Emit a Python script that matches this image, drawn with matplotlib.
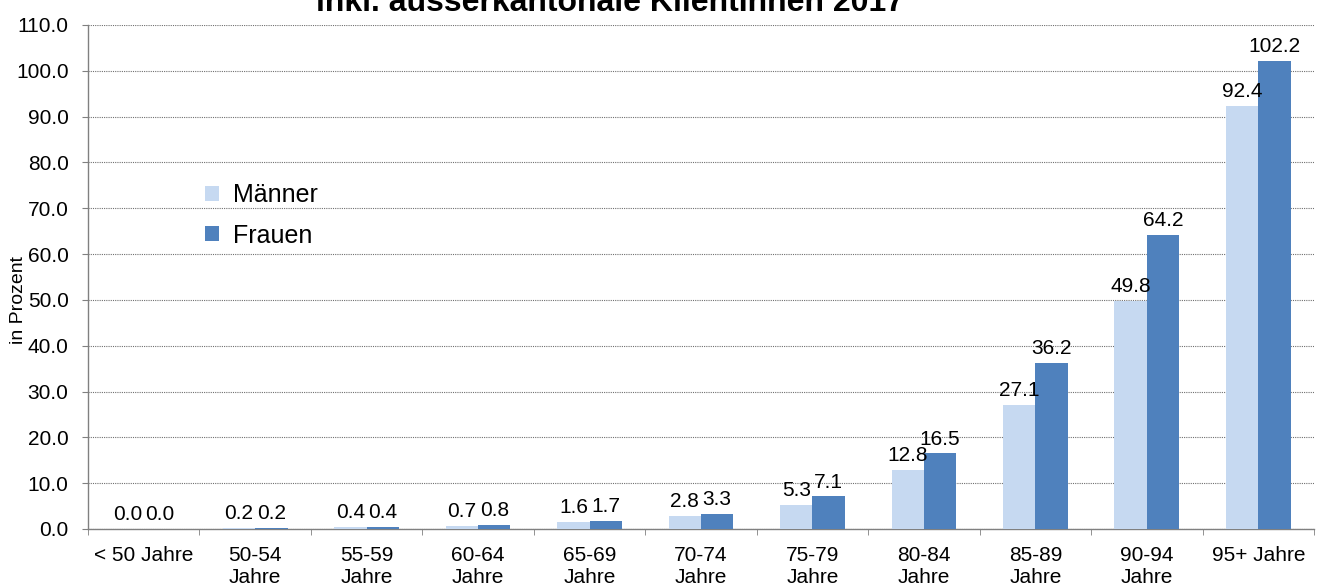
import matplotlib
matplotlib.use("Agg")
import matplotlib.pyplot as plt
import numpy as np

plt.rcParams['font.family'] = ['Liberation Sans', 'DejaVu Sans']

categories = ["< 50 Jahre", "50-54\nJahre", "55-59\nJahre", "60-64\nJahre", "65-69\nJahre",
              "70-74\nJahre", "75-79\nJahre", "80-84\nJahre", "85-89\nJahre", "90-94\nJahre",
              "95+ Jahre"]
maenner = [0.0, 0.2, 0.4, 0.7, 1.6, 2.8, 5.3, 12.8, 27.1, 49.8, 92.4]
frauen = [0.0, 0.2, 0.4, 0.8, 1.7, 3.3, 7.1, 16.5, 36.2, 64.2, 102.2]
yticks = np.arange(0, 111, 10)

c_m = "#C6D9F1"
c_f = "#4F81BD"

fig = plt.figure(figsize=(13.2, 5.86), dpi=100)
ax = fig.add_axes([88/1320, 1-529/586, (1314-88)/1320, (529-25)/586])

x = np.arange(len(categories))
w = 0.29
b1 = ax.bar(x - w/2, maenner, w, color=c_m, label="Männer", zorder=3)
b2 = ax.bar(x + w/2, frauen, w, color=c_f, label="Frauen", zorder=3)

for rects, vals in ((b1, maenner), (b2, frauen)):
    for r, v in zip(rects, vals):
        ax.annotate(f"{v:.1f}", (r.get_x() + r.get_width()/2, v),
                    xytext=(0, 3.5), textcoords="offset points",
                    ha="center", va="bottom", fontsize=15, color="black", zorder=4)

ax.set_xlim(-0.5, len(categories) - 0.5)
ax.set_ylim(0, 110)
ax.set_yticks(yticks)
ax.set_yticklabels([f"{v:.1f}" for v in yticks], fontsize=15)
ax.set_xticks(x)
ax.set_xticklabels(categories, fontsize=15, linespacing=1.25, va="top")
ax.tick_params(axis="x", which="major", length=0, pad=12)
ax.set_xticks(np.arange(-0.5, len(categories), 1), minor=True)
ax.tick_params(axis="x", which="minor", length=4, color="#808080", direction="out")
ax.tick_params(axis="y", length=4, color="#808080", direction="out", pad=10)

ax.yaxis.grid(True, linestyle=(0, (1, 1)), color="#707070", linewidth=0.8, zorder=0)
ax.set_axisbelow(True)
for s in ("top", "right"):
    ax.spines[s].set_visible(False)
for s in ("left", "bottom"):
    ax.spines[s].set_color("#808080")
    ax.spines[s].set_linewidth(1.0)

fig.text(18.5/1320, 1 - 300/586, "in Prozent", rotation=90, ha="center", va="center",
         fontsize=14)

leg = ax.legend(loc="upper left", bbox_to_anchor=(0.0954, 0.686), frameon=False,
                borderaxespad=0, borderpad=0,
                fontsize=18, handlelength=0.56, handleheight=0.56, handletextpad=0.56,
                labelspacing=0.65)

fig.text(610/1320, 1 - 11/586, "inkl. ausserkantonale KlientInnen 2017",
         ha="center", va="baseline", fontsize=23, fontweight="bold")

fig.savefig("out.png", dpi=100)
